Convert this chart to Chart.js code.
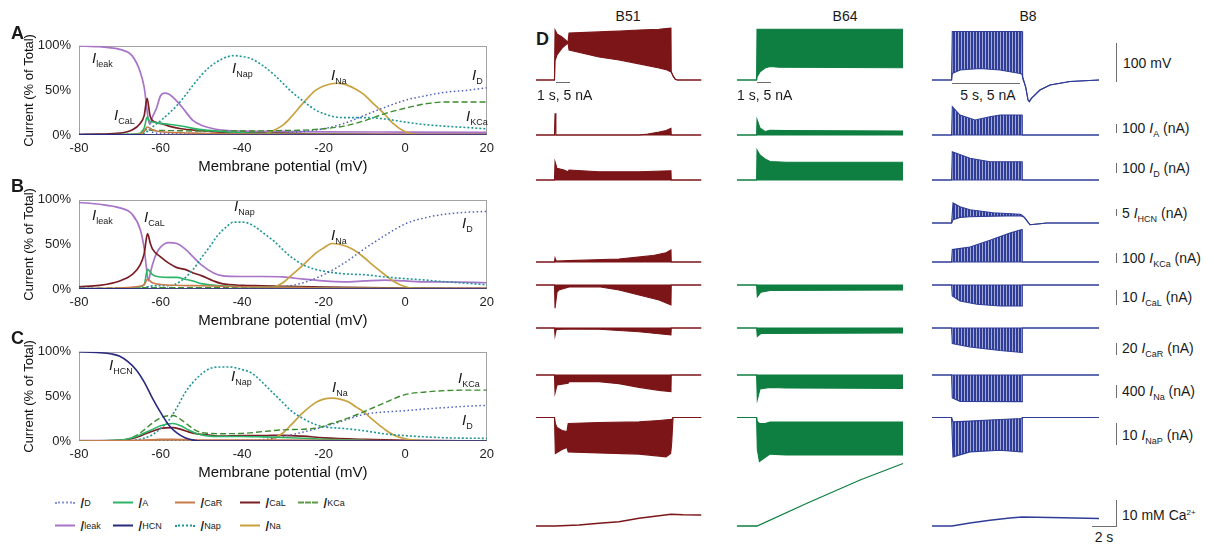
<!DOCTYPE html>
<html>
<head>
<meta charset="utf-8">
<script src="https://cdn.jsdelivr.net/npm/chart.js@4.4.0/dist/chart.umd.min.js"></script>
<style>
  body { margin: 0; background: #fff; font-family: 'Liberation Sans', Arial, sans-serif; color: #1a1a1a; }
  #fig { position: relative; width: 1214px; height: 547px; overflow: hidden; }
  canvas { position: absolute; }
  .t { position: absolute; line-height: 1; white-space: nowrap; transform: translateY(-50%); }
  .c { transform: translate(-50%, -50%); }
  .lbl { font-size: 15px; }
  .sb { font-size: 14px; }
  sub { font-size: 9px; vertical-align: -4px; line-height: 0; font-style: normal; }
  sup { font-size: 8px; vertical-align: 5px; line-height: 0; }
  .letter { font-size: 18px; font-weight: bold; }
  .bar { position: absolute; background: #6e6e6e; }
  .leg { position: absolute; font-size: 15px; line-height: 1; display: flex; align-items: center; transform: translateY(-50%); }
  .sw { display: inline-block; width: 20px; height: 0; margin-right: 5px; }
</style>
</head>
<body>
<div id="fig">
  <canvas id="pA" width="500" height="148" style="left:0;top:30px"></canvas>
  <canvas id="pB" width="500" height="148" style="left:0;top:184px"></canvas>
  <canvas id="pC" width="500" height="148" style="left:0;top:336px"></canvas>

  <div class="t letter" style="left:11px;top:33px">A</div>
  <div class="t letter" style="left:11px;top:186px">B</div>
  <div class="t letter" style="left:11px;top:338px">C</div>
  <div class="t letter" style="left:536px;top:39px">D</div>

  <!-- curve labels -->
  <div class="t lbl" style="left:92px;top:57px"><i>I</i><sub>leak</sub></div>
  <div class="t lbl" style="left:232px;top:67px"><i>I</i><sub>Nap</sub></div>
  <div class="t lbl" style="left:331px;top:74px"><i>I</i><sub>Na</sub></div>
  <div class="t lbl" style="left:472px;top:74px"><i>I</i><sub>D</sub></div>
  <div class="t lbl" style="left:114px;top:114px"><i>I</i><sub>CaL</sub></div>
  <div class="t lbl" style="left:466px;top:115px"><i>I</i><sub>KCa</sub></div>

  <div class="t lbl" style="left:92px;top:214px"><i>I</i><sub>leak</sub></div>
  <div class="t lbl" style="left:144px;top:216px"><i>I</i><sub>CaL</sub></div>
  <div class="t lbl" style="left:234px;top:205px"><i>I</i><sub>Nap</sub></div>
  <div class="t lbl" style="left:331px;top:234px"><i>I</i><sub>Na</sub></div>
  <div class="t lbl" style="left:462px;top:222px"><i>I</i><sub>D</sub></div>

  <div class="t lbl" style="left:109px;top:364px"><i>I</i><sub>HCN</sub></div>
  <div class="t lbl" style="left:231px;top:375px"><i>I</i><sub>Nap</sub></div>
  <div class="t lbl" style="left:332px;top:386px"><i>I</i><sub>Na</sub></div>
  <div class="t lbl" style="left:458px;top:377px"><i>I</i><sub>KCa</sub></div>
  <div class="t lbl" style="left:462px;top:419px"><i>I</i><sub>D</sub></div>

  <!-- legend -->
  <div class="leg" style="left:55px;top:502px"><span class="sw" style="border-top:2px dotted #8a96d2"></span><i>I</i><sub>D</sub></div>
  <div class="leg" style="left:113px;top:502px"><span class="sw" style="border-top:2px solid #2db567"></span><i>I</i><sub>A</sub></div>
  <div class="leg" style="left:175px;top:502px"><span class="sw" style="border-top:2px solid #c77b4b"></span><i>I</i><sub>CaR</sub></div>
  <div class="leg" style="left:240px;top:502px"><span class="sw" style="border-top:2px solid #7a1e26"></span><i>I</i><sub>CaL</sub></div>
  <div class="leg" style="left:298px;top:502px"><span class="sw" style="border-top:2px dashed #5e9a48"></span><i>I</i><sub>KCa</sub></div>
  <div class="leg" style="left:55px;top:525px"><span class="sw" style="border-top:2px solid #a874c8"></span><i>I</i><sub>leak</sub></div>
  <div class="leg" style="left:113px;top:525px"><span class="sw" style="border-top:2px solid #272a7e"></span><i>I</i><sub>HCN</sub></div>
  <div class="leg" style="left:175px;top:525px"><span class="sw" style="border-top:2px dotted #1e9896"></span><i>I</i><sub>Nap</sub></div>
  <div class="leg" style="left:240px;top:525px"><span class="sw" style="border-top:2px solid #c9a240"></span><i>I</i><sub>Na</sub></div>

  <!-- panel D headings and scale bars -->
  <div class="t c sb" style="left:628px;top:16px">B51</div>
  <div class="t c sb" style="left:845px;top:16px">B64</div>
  <div class="t c sb" style="left:1028px;top:16px">B8</div>

  <div class="bar" style="left:556px;top:82px;width:14px;height:1px"></div>
  <div class="t sb" style="left:537px;top:95px">1 s, 5 nA</div>
  <div class="bar" style="left:757px;top:82px;width:14px;height:1px"></div>
  <div class="t sb" style="left:737px;top:95px">1 s, 5 nA</div>
  <div class="bar" style="left:952px;top:83px;width:68px;height:1px"></div>
  <div class="t c sb" style="left:988px;top:95px">5 s, 5 nA</div>

  <div class="bar" style="left:1116px;top:43px;width:1px;height:39px"></div>
  <div class="t sb" style="left:1123px;top:63px">100 mV</div>
  <div class="bar" style="left:1116px;top:124px;width:1px;height:9px"></div>
  <div class="t sb" style="left:1122px;top:128px">100 <i>I</i><sub>A</sub> (nA)</div>
  <div class="bar" style="left:1116px;top:163px;width:1px;height:10px"></div>
  <div class="t sb" style="left:1122px;top:168px">100 <i>I</i><sub>D</sub> (nA)</div>
  <div class="bar" style="left:1116px;top:209px;width:1px;height:7px"></div>
  <div class="t sb" style="left:1122px;top:213px">5 <i>I</i><sub>HCN</sub> (nA)</div>
  <div class="bar" style="left:1116px;top:253px;width:1px;height:10px"></div>
  <div class="t sb" style="left:1122px;top:258px">100 <i>I</i><sub>KCa</sub> (nA)</div>
  <div class="bar" style="left:1116px;top:290px;width:1px;height:15px"></div>
  <div class="t sb" style="left:1122px;top:297px">10 <i>I</i><sub>CaL</sub> (nA)</div>
  <div class="bar" style="left:1116px;top:343px;width:1px;height:12px"></div>
  <div class="t sb" style="left:1122px;top:348px">20 <i>I</i><sub>CaR</sub> (nA)</div>
  <div class="bar" style="left:1116px;top:385px;width:1px;height:13px"></div>
  <div class="t sb" style="left:1122px;top:391px">400 <i>I</i><sub>Na</sub> (nA)</div>
  <div class="bar" style="left:1116px;top:423px;width:1px;height:22px"></div>
  <div class="t sb" style="left:1122px;top:435px">10 <i>I</i><sub>NaP</sub> (nA)</div>
  <div class="bar" style="left:1116px;top:500px;width:1px;height:26px"></div>
  <div class="bar" style="left:1092px;top:526px;width:25px;height:1px"></div>
  <div class="t sb" style="left:1122px;top:515px">10 mM Ca<sup>2+</sup></div>
  <div class="t c sb" style="left:1104px;top:537px">2 s</div>
</div>

<script>
Chart.defaults.font.family = "'Liberation Sans', Arial, sans-serif";

// ---- A, B, C: share of total current (%) against membrane potential (mV) ----
const A_leak = [[-80,100],[-75,99],[-70,96],[-67,89],[-65,71],[-64,53],[-63.5,35],[-63,17],[-62.6,12],[-62,20],[-61,30],[-60,44],[-59,47],[-58,46],[-56,38],[-54,27],[-52,16],[-50,11],[-45,5.5],[-40,4.4],[-30,4],[-20,3.6],[0,3.3],[20,3]];
const A_Nap = [[-80,0],[-66,0],[-64,2],[-63,5],[-62,9],[-60,16],[-58,24],[-56,33],[-54,44],[-52,56],[-50,67],[-48,76],[-45,85],[-42,89],[-40,88],[-38,86],[-35,78],[-32,67],[-30,58],[-28,49],[-25,38],[-22,28],[-20,24],[-18,21],[-15,19.5],[-10,19.5],[-5,18],[0,14.5],[5,11.6],[10,9.8],[15,8.4],[20,6.9]];
const A_Na = [[-80,0],[-36,0],[-33,3.6],[-30,11],[-28,20],[-25,36],[-22,50],[-20,55],[-17,58],[-15,57],[-12,51],[-10,45],[-8,36],[-5,23],[-3,13],[0,3.6],[3,0.5],[5,0],[20,0]];
const A_D = [[-80,0.5],[-65,1],[-63.3,7],[-62,3],[-60,2],[-40,1.5],[-30,2],[-25,4],[-20,7],[-15,13],[-10,22],[-5,31],[0,39],[5,44],[10,48],[15,50],[20,53]];
const A_KCa = [[-80,0],[-66,1],[-63.3,6],[-62,5],[-60,5],[-50,4.5],[-40,4.5],[-30,5],[-25,5.5],[-20,7],[-15,10],[-10,16],[-5,24],[0,30],[5,35],[10,37],[20,37]];
const A_CaL = [[-80,0.5],[-75,1],[-70,2],[-67,5.5],[-65,13],[-64,22],[-63.3,41],[-62.6,22],[-62,16],[-60,13],[-58,10],[-55,7],[-50,5],[-45,3],[-40,2.5],[-30,2],[-20,1],[0,0.8],[20,0.7]];
const A_A = [[-80,0],[-66,1],[-65,2],[-64,8],[-63.3,20],[-62.6,15],[-62,14.5],[-60,13],[-58,12],[-55,10],[-50,6],[-45,4],[-40,2.5],[-30,1],[-20,0.7],[0,0],[20,0]];
const A_CaR = [[-80,0],[-66,0.5],[-64,4],[-63.3,9],[-62,6],[-60,3.6],[-55,2.5],[-50,2],[-40,1],[-20,0.7],[20,0]];
const A_HCN = [[-80,0.5],[-70,0.3],[-60,0],[20,0]];

const B_leak = [[-80,97],[-75,95],[-70,91],[-67,84],[-65,67],[-64,45],[-63.5,25],[-63,9],[-62.5,18],[-62,27],[-61,40],[-60,47],[-58,52],[-56,51],[-54,45],[-52,36],[-50,27],[-47,18],[-45,15],[-40,14],[-35,14],[-30,13.5],[-25,11],[-20,9],[-15,8],[-10,9],[-5,10],[0,9],[5,8],[10,8],[20,7]];
const B_Nap = [[-80,0.5],[-66,0.5],[-64,1],[-63,2.5],[-62,3.6],[-58,3.6],[-55,9],[-52,22],[-50,35],[-48,47],[-46,60],[-44,69],[-42,75],[-40,75],[-38,73],[-36,67],[-34,60],[-32,53],[-30,44],[-28,36],[-25,27],[-22,22],[-20,20],[-15,17],[-10,16],[-5,13.5],[0,11.6],[5,10],[10,8],[15,6.5],[20,4.7]];
const B_Na = [[-80,0],[-36,0],[-33,1],[-30,7],[-28,15],[-25,27],[-22,40],[-20,46],[-18,51],[-16,50],[-14,47],[-12,42],[-10,35],[-8,27],[-5,16],[-3,9],[0,2.5],[3,0.4],[5,0],[20,0]];
const B_D = [[-80,0],[-64,1],[-63.2,2.5],[-60,1],[-40,0.5],[-35,1],[-30,2.5],[-25,7],[-20,16],[-15,29],[-10,45],[-5,60],[0,73],[5,80],[10,84],[15,86],[20,87]];
const B_KCa = [[-80,0.5],[-63,1.5],[-40,1.5],[-20,1],[0,0.7],[20,0.5]];
const B_CaL = [[-80,2.5],[-75,4],[-70,9],[-67,16],[-65,27],[-64,40],[-63.2,62],[-62.5,51],[-62,45],[-60,36],[-58,29],[-56,24],[-54,22],[-52,18],[-50,15],[-47,9],[-45,6],[-40,4],[-35,3.6],[-30,3],[-20,2],[0,1],[20,0.7]];
const B_A = [[-80,0],[-66,1],[-65,2.5],[-64,5],[-63.2,22],[-62.5,19],[-62,16],[-60,13.5],[-58,13],[-56,13],[-54,11],[-52,9],[-50,6],[-45,3.6],[-40,2.5],[-30,2],[-20,1],[0,0.4],[20,0]];
const B_CaR = [[-80,0],[-66,2.5],[-64,5],[-63.2,11],[-62,7],[-60,5],[-55,4],[-50,3.6],[-40,2.5],[-30,2],[-20,1],[20,0.4]];
const B_HCN = [[-80,0.5],[-60,0],[20,0]];

const C_HCN = [[-80,100],[-75,99],[-72,97.5],[-70,95],[-68,89],[-66,80],[-64,66],[-62,48],[-60,32],[-58,18],[-56,9],[-54,3.6],[-52,1],[-50,0],[20,0]];
const C_Nap = [[-80,0],[-70,0],[-65,2],[-62,7],[-60,14],[-58,23],[-56,37.5],[-54,54],[-52,66],[-50,75],[-48,81],[-45,83],[-43,83],[-40,80],[-38,77],[-36,70],[-34,61],[-32,52],[-30,43],[-28,34],[-25,25],[-22,18.6],[-20,16],[-15,14],[-10,11.4],[-5,8],[0,6],[5,4.6],[10,3.6],[20,2.9]];
const C_Na = [[-80,0],[-35,0],[-32,3.6],[-30,9],[-28,18],[-25,32],[-22,43],[-20,47],[-18,48],[-16,47],[-14,44],[-12,38],[-10,32],[-8,24],[-5,13],[-3,7],[0,2.5],[3,0.7],[5,0],[20,0]];
const C_KCa = [[-80,0],[-70,0.7],[-66,6],[-64,12.5],[-62,20],[-60,26],[-57,28.6],[-55,24],[-53,17],[-51,11],[-49,9],[-45,8.2],[-40,8.5],[-35,10.5],[-30,12.5],[-22,14.3],[-18,19.6],[-15,24],[-11.6,30],[-8,37],[-5,43],[0,52],[5,55],[10,56.5],[15,57],[20,57]];
const C_D = [[-80,0],[-40,0.5],[-35,1.5],[-30,5],[-25,10],[-20,16],[-15,23],[-10,30],[-5,32.5],[0,34],[5,36],[10,37.5],[15,39],[20,40]];
const C_A = [[-80,0],[-70,1],[-66,5],[-64,9],[-62,13],[-60,17],[-57,19.6],[-55,17],[-53,12],[-51,8],[-49,6],[-45,5],[-40,5],[-35,4.6],[-30,4],[-25,3],[-20,2],[-10,0.7],[0,0],[20,0]];
const C_CaL = [[-80,0],[-70,0.7],[-66,4],[-64,7.5],[-62,11],[-60,14],[-57,15],[-55,13],[-53,10],[-51,8],[-48,6.5],[-45,5.4],[-40,6],[-35,6],[-30,6.4],[-25,5.4],[-20,3.6],[-10,1.8],[0,0.7],[20,0]];
const C_CaR = [[-80,0],[-65,0.7],[-60,1.8],[-57,2],[-50,1],[-30,1],[0,0.3],[20,0]];
const C_leak = [[-80,0.5],[-50,0.5],[20,0.3]];

// ---- D: simulated traces, [time s, upper, lower] envelopes or [time s, value] ----
const B51_V   = [[0,-60,-60],[1.32,-60,-60],[1.36,70,-10],[1.5,60,5],[1.86,52,23],[2.21,41,34],[2.29,40,36],[2.36,62,18],[4.5,65,0],[5.93,67,-8],[7.36,70,-18],[8.79,72,-29],[9.29,74,-33],[9.64,75,-39],[9.66,-39,-39],[9.8,-50,-50],[9.95,-58,-58],[10.1,-60,-60],[11.8,-60,-60]];
const B51_A   = [[0,0,0],[1.32,0,0],[1.36,217,0],[1.42,0,0],[7.36,0,0],[8.0,10,0],[8.79,30,0],[9.3,45,0],[9.64,67,0],[9.66,0,0],[11.8,0,0]];
const B51_D   = [[0,0,0],[1.32,0,0],[1.36,183,0],[1.5,117,0],[2.0,100,0],[2.29,83,0],[2.36,100,0],[4.5,83,0],[7.36,83,0],[9.64,93,0],[9.66,0,0],[11.8,0,0]];
const B51_KCa = [[0,0,0],[1.32,0,0],[1.36,48,0],[1.45,10,0],[2.36,16,0],[5.93,36,0],[8.29,76,0],[9.29,112,0],[9.64,144,0],[9.66,0,0],[11.8,0,0]];
const B51_CaL = [[0,0,0],[1.32,0,0],[1.36,0,-16.3],[1.5,0,-5],[1.64,0,-3.5],[2.36,0,-1.4],[4.5,0,-1.2],[5.93,0,-3.5],[7.36,0,-7],[8.79,0,-10.5],[9.64,0,-14],[9.66,0,0],[11.8,0,0]];
const B51_CaR = [[0,0,0],[1.32,0,0],[1.36,0,-15],[1.45,0,-3],[2.36,0,-2],[4.5,0,-2.6],[7.36,0,-7.4],[9.64,0,-14],[9.66,0,0],[11.8,0,0]];
const B51_Na  = [[0,0,0],[1.32,0,0],[1.36,0,-540],[1.5,0,-300],[2.29,0,-250],[2.36,0,-200],[4.5,0,-200],[5.93,0,-260],[7.36,0,-370],[8.79,0,-460],[9.64,0,-500],[9.66,0,0],[11.8,0,0]];
const B51_NaP = [[0,0,0],[1.32,0,0],[1.38,-3,-18],[1.5,-5,-17.5],[1.86,-6.5,-16],[2.21,-7,-15],[2.3,-3,-17.2],[4.5,-2.5,-17.7],[7.36,-2.2,-18.3],[8.79,-1.5,-19.3],[9.29,-1.2,-19.7],[9.62,-1,-18],[9.69,-1,-13],[9.79,0,0],[11.8,0,0]];
const B51_Ca  = [[0,0],[1.36,0],[3.07,0.4],[4.5,1.1],[5.93,1.7],[7.36,3.1],[8.79,4.1],[9.64,4.7],[10.5,4.5],[11.8,4.4]];

const B64_V   = [[0,-60,-60],[1.4,-60,-60],[1.43,72,-52],[1.64,72,-39],[2.0,72,-29],[2.36,72,-25],[3.0,72,-27],[11.86,72,-28]];
const B64_A   = [[0,0,0],[1.4,0,0],[1.43,155,0],[1.64,70,0],[2.0,35,0],[2.36,48,0],[3.5,45,0],[11.86,40,0]];
const B64_D   = [[0,0,0],[1.4,0,0],[1.43,300,0],[1.64,250,0],[2.0,210,0],[2.36,185,0],[3.5,178,0],[11.86,178,0]];
const B64_CaL = [[0,0,0],[1.4,0,0],[1.45,0,-8.2],[1.7,0,-5],[2.36,0,-3.8],[11.86,0,-3.5]];
const B64_CaR = [[0,0,0],[1.4,0,0],[1.45,0,-17],[1.7,0,-11],[11.86,0,-10]];
const B64_Na  = [[0,0,0],[1.4,0,0],[1.45,0,-740],[1.64,0,-420],[2.36,0,-370],[3.5,0,-390],[11.86,0,-400]];
const B64_NaP = [[0,0,0],[1.4,0,0],[1.45,-2,-16],[1.6,-3,-22],[2.0,-3,-20],[2.36,-2.3,-18.3],[3.5,-2.3,-18.7],[11.86,-2.3,-18.7]];
const B64_Ca  = [[0,0],[1.43,0],[5.0,9.1],[8.79,18.4],[11.86,25]];

const B8_V    = [[0,-60,-60],[1.4,-60,-60],[1.45,66,-43],[2.0,66,-34],[3.43,66,-30],[4.86,66,-34],[6.29,66,-43],[6.43,66,-45],[6.47,-52,-52],[6.7,-80,-80],[6.86,-112,-112],[6.95,-116,-116],[7.1,-108,-108],[7.71,-86,-86],[8.43,-73,-73],[9.86,-64,-64],[11.93,-60,-60]];
const B8_A    = [[0,0,0],[1.4,0,0],[1.45,283,0],[2.0,200,0],[3.07,150,0],[4.14,183,0],[4.86,200,0],[6.43,200,0],[6.45,0,0],[11.93,0,0]];
const B8_D    = [[0,0,0],[1.4,0,0],[1.45,283,0],[2.71,217,0],[4.14,183,0],[6.43,183,0],[6.45,0,0],[11.93,0,0]];
const B8_HCN  = [[0,0,0],[1.4,0,0],[1.5,16,2.6],[2.0,13,4.5],[2.71,10.6,5],[4.36,8.2,5.5],[6.29,7,5.8],[6.41,6.5,5.5],[6.6,4.5,4.5],[7.0,-1.4,-1.4],[7.7,-0.6,-0.6],[8.2,0,0],[11.93,0,0]];
const B8_KCa  = [[0,0,0],[1.4,0,0],[1.45,149,0],[2.71,180,0],[4.14,260,0],[5.57,348,0],[6.43,389,0],[6.45,0,0],[11.93,0,0]];
const B8_CaL  = [[0,0,0],[1.4,0,0],[1.45,0,-7.7],[2.0,0,-11.2],[3.21,0,-13.5],[4.86,0,-14.7],[6.43,0,-14.7],[6.45,0,0],[11.93,0,0]];
const B8_CaR  = [[0,0,0],[1.4,0,0],[1.45,0,-31],[2.71,0,-38],[4.86,0,-45],[6.43,0,-49],[6.45,0,0],[11.93,0,0]];
const B8_Na   = [[0,0,0],[1.4,0,0],[1.45,0,-690],[2.0,0,-790],[6.43,0,-800],[6.45,0,0],[11.93,0,0]];
const B8_NaP  = [[0,0,0],[1.4,0,0],[1.5,-2.2,-19.7],[2.71,-1.8,-17.2],[4.86,-1,-16.4],[6.43,-0.5,-17.2],[6.45,0,0],[11.93,0,0]];
const B8_Ca   = [[0,0],[1.43,0],[2.71,1.2],[4.14,2.3],[5.57,3.2],[6.43,3.6],[8.43,3.4],[11.93,3.0]];

// line styles, drawn in this order
const STYLES = [
  { key: 'HCN',  color: '#272a7e', width: 1.6 },
  { key: 'CaR',  color: '#c77b4b', width: 1.6 },
  { key: 'A',    color: '#2db567', width: 1.6 },
  { key: 'KCa',  color: '#3d8b2f', width: 1.4, dash: [6, 3] },
  { key: 'D',    color: '#4f5fbd', width: 1.5, dash: [1.5, 2.5] },
  { key: 'Nap',  color: '#1e9896', width: 1.6, dash: [2, 2] },
  { key: 'Na',   color: '#c9a240', width: 1.7 },
  { key: 'CaL',  color: '#7a1e26', width: 1.7 },
  { key: 'leak', color: '#a874c8', width: 1.7 }
];

const frame = {
  id: 'frame',
  beforeDatasetsDraw(chart) {
    const { ctx, chartArea: a } = chart;
    ctx.save();
    ctx.strokeStyle = '#a3a3a3';
    ctx.lineWidth = 1;
    ctx.strokeRect(Math.round(a.left) + 0.5, Math.round(a.top) + 0.5, Math.round(a.width) - 1, Math.round(a.height) - 1);
    ctx.restore();
  }
};

function makePanel(id, series) {
  new Chart(document.getElementById(id), {
    type: 'line',
    data: {
      datasets: STYLES.filter(s => series[s.key]).map(s => ({
        data: series[s.key].map(p => ({ x: p[0], y: p[1] })),
        borderColor: s.color,
        borderWidth: s.width,
        borderDash: s.dash || [],
        pointRadius: 0,
        fill: false,
        cubicInterpolationMode: 'monotone'
      }))
    },
    options: {
      animation: false, responsive: false, events: [],
      layout: { padding: { top: 13, right: 10, left: 0, bottom: 0 } },
      plugins: { legend: { display: false }, tooltip: { enabled: false } },
      scales: {
        x: {
          type: 'linear', min: -80, max: 20,
          grid: { display: false, drawTicks: false }, border: { display: false },
          ticks: { stepSize: 20, padding: 6, color: '#222', font: { size: 13 }, maxRotation: 0 },
          title: { display: true, text: 'Membrane potential (mV)', color: '#111', font: { size: 15 }, padding: { top: 0, bottom: 2 } },
          afterFit: s => { s.height = 43; }
        },
        y: {
          min: 0, max: 100,
          grid: { display: false, drawTicks: false }, border: { display: false },
          ticks: { stepSize: 50, padding: 8, color: '#222', font: { size: 13 }, callback: v => v + '%' },
          title: { display: true, text: 'Current (% of Total)', color: '#111', font: { size: 13 }, padding: { top: 22, bottom: 0 } },
          afterFit: s => { s.width = 79; }
        }
      }
    },
    plugins: [frame]
  });
}

makePanel('pA', { leak: A_leak, Nap: A_Nap, Na: A_Na, D: A_D, KCa: A_KCa, CaL: A_CaL, A: A_A, CaR: A_CaR, HCN: A_HCN });
makePanel('pB', { leak: B_leak, Nap: B_Nap, Na: B_Na, D: B_D, KCa: B_KCa, CaL: B_CaL, A: B_A, CaR: B_CaR, HCN: B_HCN });
makePanel('pC', { leak: C_leak, Nap: C_Nap, Na: C_Na, D: C_D, KCa: C_KCa, CaL: C_CaL, A: C_A, CaR: C_CaR, HCN: C_HCN });

// ---- panel D layout: one small chart per trace ----
const COL_W = 168;   // 12 s
const ROWS = {
  V:   { top: 18,  bottom: 108, basePx: 80,    base: -60, perPx: 2.6 },
  A:   { top: 100, bottom: 140, basePx: 135,   base: 0,   perPx: 10 },
  D:   { top: 144, bottom: 186, basePx: 180,   base: 0,   perPx: 10 },
  HCN: { top: 196, bottom: 232, basePx: 223,   base: 0,   perPx: 0.8 },
  KCa: { top: 222, bottom: 268, basePx: 262,   base: 0,   perPx: 12 },
  CaL: { top: 279, bottom: 314, basePx: 285,   base: 0,   perPx: 0.7 },
  CaR: { top: 322, bottom: 360, basePx: 328,   base: 0,   perPx: 2 },
  Na:  { top: 369, bottom: 407, basePx: 375,   base: 0,   perPx: 30 },
  NaP: { top: 411, bottom: 466, basePx: 417.5, base: 0,   perPx: 0.5 },
  Ca:  { top: 455, bottom: 531, basePx: 526,   base: 0,   perPx: 0.4 }
};

function stripes(dark, light) {
  const c = document.createElement('canvas');
  c.width = 3; c.height = 4;
  const g = c.getContext('2d');
  g.fillStyle = light; g.fillRect(0, 0, 3, 4);
  g.fillStyle = dark;  g.fillRect(0, 0, 2, 4);
  return g.createPattern(c, 'repeat');
}

const COLS = [
  { left: 536, color: '#7b1518', fill: '#7b1518',
    traces: { V: B51_V, A: B51_A, D: B51_D, KCa: B51_KCa, CaL: B51_CaL, CaR: B51_CaR, Na: B51_Na, NaP: B51_NaP, Ca: B51_Ca } },
  { left: 737, color: '#0e7f40', fill: '#0e7f40',
    traces: { V: B64_V, A: B64_A, D: B64_D, CaL: B64_CaL, CaR: B64_CaR, Na: B64_Na, NaP: B64_NaP, Ca: B64_Ca } },
  { left: 932, color: '#2f3d98', fill: stripes('#2f3d98', 'rgba(47,61,152,0.45)'),
    traces: { V: B8_V, A: B8_A, D: B8_D, HCN: B8_HCN, KCa: B8_KCa, CaL: B8_CaL, CaR: B8_CaR, Na: B8_Na, NaP: B8_NaP, Ca: B8_Ca } }
];

const fig = document.getElementById('fig');

function drawTrace(col, row, arr) {
  const cv = document.createElement('canvas');
  cv.width = COL_W;
  cv.height = row.bottom - row.top;
  cv.style.left = col.left + 'px';
  cv.style.top = row.top + 'px';
  fig.appendChild(cv);

  const sets = [];
  if (arr[0].length === 3) {
    sets.push({ data: arr.map(p => ({ x: p[0], y: p[1] })), borderColor: col.color, borderWidth: 1.1, pointRadius: 0, fill: false });
    sets.push({ data: arr.map(p => ({ x: p[0], y: p[2] })), borderColor: col.color, borderWidth: 1.1, pointRadius: 0, fill: '-1', backgroundColor: col.fill });
  } else {
    sets.push({ data: arr.map(p => ({ x: p[0], y: p[1] })), borderColor: col.color, borderWidth: 1.3, pointRadius: 0, fill: false });
  }

  new Chart(cv, {
    type: 'line',
    data: { datasets: sets },
    options: {
      animation: false, responsive: false, events: [],
      layout: { padding: 0 },
      plugins: { legend: { display: false }, tooltip: { enabled: false } },
      scales: {
        x: { type: 'linear', display: false, min: 0, max: 12 },
        y: { display: false,
             min: row.base - (row.bottom - row.basePx) * row.perPx,
             max: row.base + (row.basePx - row.top) * row.perPx }
      }
    }
  });
}

COLS.forEach(col => {
  Object.keys(col.traces).forEach(k => drawTrace(col, ROWS[k], col.traces[k]));
});
</script>
</body>
</html>
